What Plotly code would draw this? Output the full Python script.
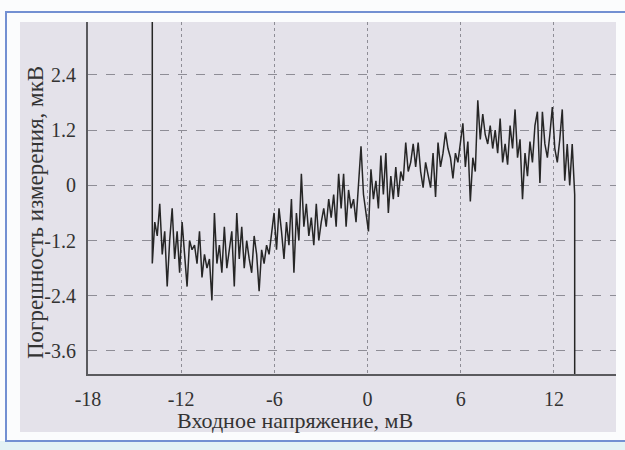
import plotly.graph_objects as go

# ---- data ----
X_START = -13.86   # first sample, mV
X_STEP = 0.16      # sample spacing, mV
ERR_UV = [
    -1.7, -0.8, -1.1, -0.4, -1.5, -1.0,
    -2.2, -1.2, -0.5, -1.6, -1.0, -1.9,
    -0.8, -1.5, -2.2, -1.2, -1.4, -1.3,
    -1.7, -1.0, -2.0, -1.5, -1.8, -1.6,
    -2.5, -0.6, -1.7, -1.3, -1.9, -0.9,
    -1.8, -1.4, -1.0, -2.2, -0.6, -1.6,
    -0.9, -1.8, -1.2, -1.6, -1.9, -1.1,
    -1.5, -2.3, -1.4, -1.7, -1.3, -1.5,
    -1.1, -0.6, -1.4, -0.5, -1.0, -1.6,
    -0.8, -1.3, -0.3, -1.9, -0.6, -1.2,
    0.25, -0.9, -0.4, -1.1, -0.7, -1.3,
    -0.4, -1.2, -0.8, -0.5, -0.9, -0.3,
    -0.7, -0.2, -0.9, 0.25, -0.5, 0.25,
    -0.9, -0.1, -0.5, -0.3, -0.8, 0.1,
    0.85, -0.2, -0.6, -1.0, 0.35, -0.3,
    0.1, -0.5, 0.65, -0.2, 0.7, -0.6,
    0.2, -0.3, 0.4, -0.25, 0.3, 0.1,
    0.93, 0.3, 0.5, 0.9, 0.4, 0.93,
    0.3, -0.05, 0.5, 0.2, -0.05, 0.7,
    -0.25, 0.93, 0.4, 0.7, 1.15, 0.8,
    0.6, 0.15, 0.7, 0.5, 1.0, 1.35,
    0.4, 0.95, -0.35, 0.6, 0.3, 1.85,
    1.0, 1.55, 1.1, 0.9, 1.3, 0.8,
    1.2, 0.7, 1.45, 0.5, 0.9, 0.45,
    1.3, 0.8, 1.65, 0.6, 1.0, -0.3,
    0.7, 0.2, 0.95, 0.5, 1.3, 1.6,
    0.05, 1.6, 0.9, 0.6, 1.1, 1.7,
    0.8, 0.5, 1.0, 1.65, 0.1, 0.9,
    0.0, 0.9, -0.2,
]
# the recorded sweep starts from an off-scale high value and drops off-scale at the end
START_LEVEL = 10.0
END_LEVEL = -10.0

X_TICKS = [-18, -12, -6, 0, 6, 12]
X_TICK_TEXT = ["-18", "-12", "-6", "0", "6", "12"]
Y_TICKS = [2.4, 1.2, 0, -1.2, -2.4, -3.6]
Y_TICK_TEXT = ["2.4", "1.2", "0", "-1.2", "-2.4", "-3.6"]
X_TITLE = "Входное напряжение, мВ"
Y_TITLE = "Погрешность измерения, мкВ"

xs = [X_START + i * X_STEP for i in range(len(ERR_UV))]
x_all = [xs[0]] + xs + [xs[-1]]
y_all = [START_LEVEL] + ERR_UV + [END_LEVEL]

W, H = 625, 450
L, R, T, B = 88, 9, 22, 76
PW, PH = W - L - R, H - T - B


def px(x):
    return (x - L) / PW


def py(y):
    return (H - B - y) / PH


FONT = "Liberation Serif, Times New Roman, serif"

fig = go.Figure()
fig.add_trace(go.Scatter(
    x=x_all, y=y_all, mode="lines",
    line=dict(color="#262626", width=1.5),
    showlegend=False, hoverinfo="skip", cliponaxis=True,
))

shapes = [
    dict(type="rect", xref="paper", yref="paper", layer="below",
         x0=px(20), x1=px(616), y0=py(432), y1=py(22),
         fillcolor="#e4e2ea", line=dict(width=0)),
    dict(type="rect", xref="paper", yref="paper", layer="below",
         x0=px(-5), x1=px(640), y0=py(452), y1=py(441),
         fillcolor="#e3f2f5", line=dict(width=0)),
    dict(type="rect", xref="paper", yref="paper", layer="below",
         x0=px(6), x1=px(640), y0=py(441), y1=py(12),
         fillcolor="rgba(0,0,0,0)", line=dict(color="#7390d2", width=2)),
]

annotations = [
    dict(text=X_TITLE, xref="paper", yref="paper", x=px(295), y=py(420),
         showarrow=False, font=dict(family=FONT, size=22, color="#333333"),
         xanchor="center", yanchor="middle"),
    dict(text=Y_TITLE, xref="paper", yref="paper", x=px(35), y=py(213),
         showarrow=False, textangle=-90,
         font=dict(family=FONT, size=23, color="#333333"),
         xanchor="center", yanchor="middle"),
]

fig.update_layout(
    width=W, height=H,
    margin=dict(l=L, r=R, t=T, b=B, pad=0),
    paper_bgcolor="#fbfcfd",
    plot_bgcolor="rgba(0,0,0,0)",
    shapes=shapes,
    annotations=annotations,
    font=dict(family=FONT, size=20, color="#333333"),
    xaxis=dict(
        range=[-18, 16], tickvals=X_TICKS, ticktext=X_TICK_TEXT,
        showgrid=True, gridcolor="#8e8d96", griddash="dot", gridwidth=1,
        zeroline=False, showline=True, linecolor="#5a5a5e", linewidth=2,
        ticks="", ticklabelstandoff=6,
        tickfont=dict(family=FONT, size=20, color="#333333"),
    ),
    yaxis=dict(
        range=[-4.1, 3.55], tickvals=Y_TICKS, ticktext=Y_TICK_TEXT,
        showgrid=True, gridcolor="#8e8d96", griddash="dash", gridwidth=1,
        zeroline=False, showline=True, linecolor="#5a5a5e", linewidth=2,
        ticks="", ticklabelstandoff=6,
        tickfont=dict(family=FONT, size=20, color="#333333"),
    ),
)

fig.write_html(
    "out.html",
    config={"displayModeBar": False},
    post_script="document.body.style.margin='0';document.body.style.padding='0';",
)
